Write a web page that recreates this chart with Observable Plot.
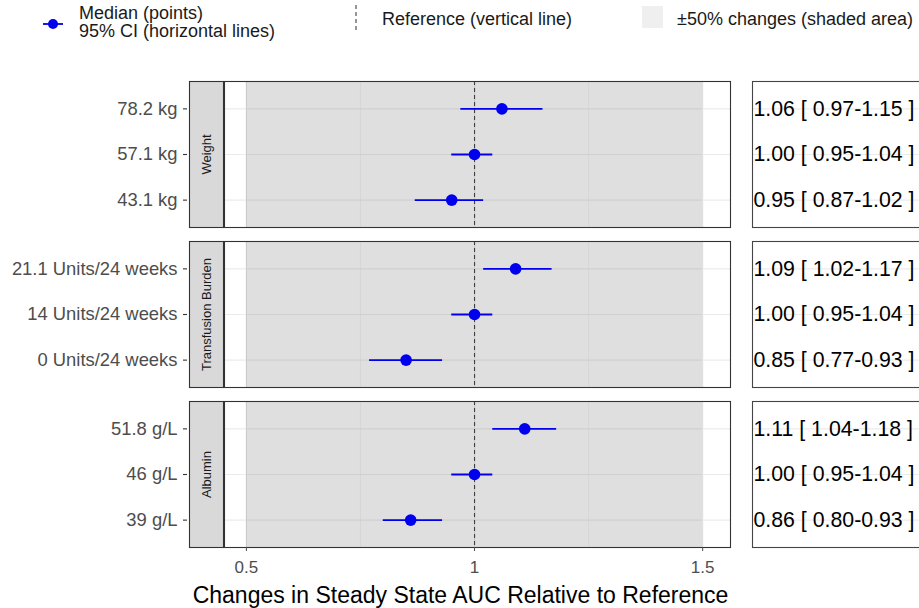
<!DOCTYPE html>
<html><head><meta charset="utf-8">
<script src="https://cdn.jsdelivr.net/npm/d3@7"></script>
<script src="https://cdn.jsdelivr.net/npm/@observablehq/plot@0.6"></script>
<style>
html,body{margin:0;padding:0;background:#fff;}
#wrap{position:relative;width:919px;height:608px;overflow:hidden;font-family:"Liberation Sans",Arial,sans-serif;}
#legend{position:absolute;left:0;top:0;}
#main{position:absolute;left:0;top:60px;width:740px;}
#table{position:absolute;left:740px;top:60px;width:200px;}
#wrap svg{max-width:none !important;}
</style></head><body>
<div id="wrap">
  <div id="legend"></div>
  <div id="main"></div>
  <div id="table"></div>
</div>
<script>
// ---- data ----
const groups = ["Weight", "Transfusion Burden", "Albumin"];
const levels = [
  ["78.2 kg", "57.1 kg", "43.1 kg"],
  ["21.1 Units/24 weeks", "14 Units/24 weeks", "0 Units/24 weeks"],
  ["51.8 g/L", "46 g/L", "39 g/L"]
];
const medians = [[1.06, 1.00, 0.95], [1.09, 1.00, 0.85], [1.11, 1.00, 0.86]];
const lower   = [[0.97, 0.95, 0.87], [1.02, 0.95, 0.77], [1.04, 0.95, 0.80]];
const upper   = [[1.15, 1.04, 1.02], [1.17, 1.04, 0.93], [1.18, 1.04, 0.93]];
const xTicks = [0.5, 1, 1.5];
const xMinorTicks = [0.75, 1.25];
const xDomain = [0.452, 1.561];
const refValue = 1;
const shadeRange = [0.5, 1.5];
const xTitle = "Changes in Steady State AUC Relative to Reference";
const legendLabels = ["Median (points)", "95% CI (horizontal lines)", "Reference (vertical line)", "±50% changes (shaded area)"];

const rows = groups.flatMap((g, gi) => levels[gi].map((lab, li) => ({
  group: g, label: lab, pos: levels[gi].length - 1 - li,
  med: medians[gi][li], lo: lower[gi][li], hi: upper[gi][li]
})));

// ---- layout ----
const W = 740, H = 548, mL = 224, mR = 10, mT = 21, mB = 61;
const panelW = W - mL - mR;
const blue = "#0000ee";
const font = "Liberation Sans, Arial, sans-serif";
const fyOpts = {domain: groups, paddingInner: 0.0875, paddingOuter: 0, round: false, axis: null};
const yDomain = [-0.6, 2.6];
const yMid = (yDomain[0] + yDomain[1]) / 2;
const yOpts = {domain: yDomain, axis: null};

// ---- legend ----
const lg = d3.select("#legend").append("svg").attr("width", 919).attr("height", 60)
  .style("font-family", font);
lg.append("line").attr("x1", 43).attr("x2", 63).attr("y1", 24).attr("y2", 24).attr("stroke", blue).attr("stroke-width", 1.8);
lg.append("circle").attr("cx", 53).attr("cy", 24).attr("r", 5).attr("fill", blue);
lg.append("text").attr("x", 79).attr("y", 19).attr("font-size", 18).attr("fill", "#1a1a1a").text(legendLabels[0]);
lg.append("text").attr("x", 79).attr("y", 37).attr("font-size", 18).attr("fill", "#1a1a1a").text(legendLabels[1]);
lg.append("line").attr("x1", 356).attr("x2", 356).attr("y1", 5).attr("y2", 30).attr("stroke", "#404040").attr("stroke-width", 1.1).attr("stroke-dasharray", "4,3");
lg.append("text").attr("x", 382).attr("y", 25).attr("font-size", 18).attr("fill", "#1a1a1a").text(legendLabels[2]);
lg.append("rect").attr("x", 642).attr("y", 6).attr("width", 21).attr("height", 22).attr("fill", "#efefef");
lg.append("text").attr("x", 677).attr("y", 25).attr("font-size", 18).attr("fill", "#1a1a1a").text(legendLabels[3]);

// ---- main forest plot ----
const main = Plot.plot({
  width: W, height: H,
  marginLeft: mL, marginRight: mR, marginTop: mT, marginBottom: mB,
  style: {fontFamily: font, background: "transparent"},
  x: {domain: xDomain},
  y: yOpts,
  fy: fyOpts,
  marks: [
    Plot.gridX(xMinorTicks, {stroke: "#ebebeb", strokeOpacity: 1, strokeWidth: 0.6}),
    Plot.gridX(xTicks, {stroke: "#e2e2e2", strokeOpacity: 1, strokeWidth: 1.1}),
    Plot.ruleY(rows, {fy: "group", y: "pos", stroke: "#ebebeb", strokeWidth: 1.1}),
    Plot.rect([shadeRange], {x1: d => d[0], x2: d => d[1], fill: "#808080", fillOpacity: 0.25}),
    Plot.ruleX([refValue], {stroke: "#404040", strokeDasharray: "4,3", strokeWidth: 1.1}),
    Plot.ruleY(rows, {fy: "group", y: "pos", x1: "lo", x2: "hi", stroke: blue, strokeWidth: 1.8}),
    Plot.dot(rows, {fy: "group", x: "med", y: "pos", r: 5.8, fill: blue}),
    Plot.frame({stroke: "#333333", strokeWidth: 1.1}),
    Plot.frame({fill: "#d9d9d9", stroke: "#333333", strokeWidth: 1.1, insetLeft: -35, insetRight: panelW + 1}),
    Plot.text(groups, {fy: d => d, y: () => yMid, text: d => d, frameAnchor: "left", textAnchor: "middle", lineAnchor: "middle", dx: -18, rotate: -90, fontSize: 13, fill: "#1a1a1a"}),
    Plot.tickY(rows, {fy: "group", y: "pos", dx: -41, insetRight: panelW - 4, stroke: "#333333", strokeWidth: 1.1}),
    Plot.text(rows, {fy: "group", y: "pos", text: "label", frameAnchor: "left", textAnchor: "end", dx: -47, fontSize: 18.4, fill: "#4d4d4d"}),
    Plot.axisX({ticks: xTicks, tickFormat: d => String(d), tickSize: 4, tickPadding: 9, fontSize: 17, color: "#4d4d4d", label: null}),
    Plot.text([xTitle], {fy: () => groups[groups.length - 1], text: d => d, frameAnchor: "bottom", dx: -17, dy: 48, lineAnchor: "middle", fontSize: 23, fill: "#000"})
  ]
});
document.getElementById("main").append(main);

// ---- right-hand table ----
const table = Plot.plot({
  width: 200, height: H,
  marginLeft: 12, marginRight: 20, marginTop: mT, marginBottom: mB,
  style: {fontFamily: font, background: "transparent"},
  x: {domain: [0, 1], axis: null},
  y: yOpts,
  fy: fyOpts,
  marks: [
    Plot.ruleY(rows, {fy: "group", y: "pos", stroke: "#ebebeb", strokeWidth: 1.1}),
    Plot.frame({stroke: "#444444", strokeWidth: 1.1}),
    Plot.text(rows, {fy: "group", y: "pos",
      text: d => `${d.med.toFixed(2)} [ ${d.lo.toFixed(2)}-${d.hi.toFixed(2)} ]`,
      frameAnchor: "left", textAnchor: "start", dx: 1, fontSize: 21.3, fill: "#000"})
  ]
});
document.getElementById("table").append(table);
</script>
</body></html>
